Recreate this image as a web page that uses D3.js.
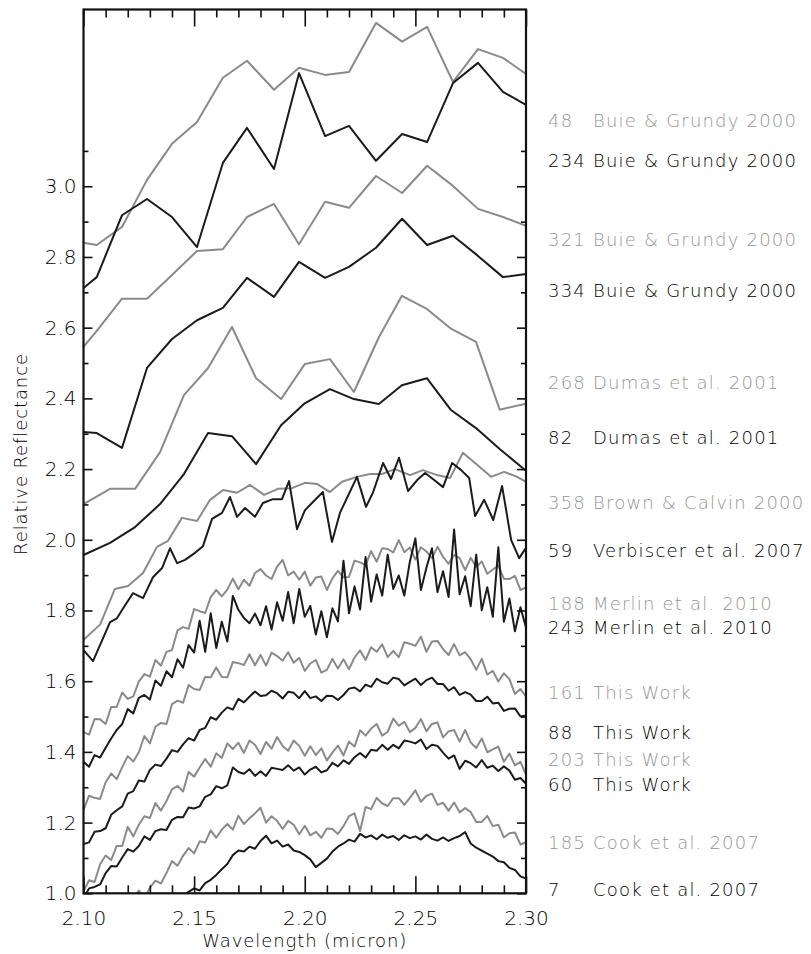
<!DOCTYPE html>
<html>
<head>
<meta charset="utf-8">
<script src="https://cdn.jsdelivr.net/npm/d3@7"></script>
<style>
  html, body { margin: 0; padding: 0; background: #fff; }
  svg { display: block; font-family: "DejaVu Sans", sans-serif; font-weight: 200; }
</style>
</head>
<body>
<div id="chart"></div>
<script>
// low-res spectra (Buie & Grundy 2000)
const buieWave = [2.100, 2.106, 2.1174, 2.1287, 2.140, 2.1513, 2.163, 2.1739, 2.1861, 2.1974, 2.2092, 2.220, 2.2322, 2.244, 2.2553, 2.267, 2.2783, 2.2896, 2.300];
const buie48  = [2.840, 2.834, 2.885, 3.018, 3.120, 3.182, 3.307, 3.355, 3.273, 3.335, 3.315, 3.323, 3.462, 3.409, 3.451, 3.295, 3.388, 3.363, 3.318];
const buie234 = [2.712, 2.743, 2.918, 2.964, 2.913, 2.828, 3.066, 3.165, 3.049, 3.320, 3.142, 3.171, 3.072, 3.148, 3.125, 3.292, 3.349, 3.267, 3.230];
const buie321 = [2.546, 2.591, 2.682, 2.682, 2.749, 2.817, 2.822, 2.913, 2.950, 2.836, 2.956, 2.939, 3.029, 2.981, 3.058, 3.001, 2.936, 2.913, 2.888];
const buie334 = [2.305, 2.302, 2.260, 2.486, 2.568, 2.621, 2.656, 2.741, 2.687, 2.786, 2.741, 2.772, 2.826, 2.908, 2.834, 2.860, 2.803, 2.743, 2.752];

// Dumas et al. 2001
const dumasWave = [2.100, 2.112, 2.1233, 2.1346, 2.1454, 2.1563, 2.1671, 2.178, 2.1893, 2.200, 2.2114, 2.2222, 2.2335, 2.2439, 2.2552, 2.2661, 2.2774, 2.2881, 2.300];
const dumas268 = [2.101, 2.144, 2.144, 2.248, 2.409, 2.486, 2.602, 2.457, 2.398, 2.497, 2.511, 2.418, 2.573, 2.690, 2.653, 2.597, 2.560, 2.368, 2.385];
const dumas82  = [1.957, 1.991, 2.036, 2.101, 2.186, 2.302, 2.293, 2.214, 2.324, 2.386, 2.426, 2.398, 2.384, 2.437, 2.457, 2.367, 2.316, 2.257, 2.195];

// Brown & Calvin 2000
const brownWave = [2.1000, 2.1075, 2.1142, 2.1201, 2.1269, 2.1332, 2.1382, 2.1445, 2.1513, 2.1572, 2.1631, 2.1694, 2.1753, 2.1816, 2.1879, 2.1942, 2.2001, 2.2055, 2.2114, 2.2168, 2.2236, 2.2295, 2.2349, 2.2408, 2.2476, 2.2534, 2.2598, 2.2657, 2.2715, 2.2779, 2.2842, 2.2901, 2.2960, 2.3000];
const brown358 = [1.717, 1.760, 1.861, 1.869, 1.906, 1.980, 1.997, 2.062, 2.053, 2.113, 2.141, 2.133, 2.155, 2.127, 2.144, 2.146, 2.161, 2.158, 2.135, 2.164, 2.178, 2.186, 2.186, 2.200, 2.183, 2.197, 2.183, 2.175, 2.246, 2.212, 2.178, 2.192, 2.178, 2.164];

// Verbiscer et al. 2007
const verbWave = [2.1000, 2.1043, 2.1120, 2.1151, 2.1188, 2.1224, 2.1269, 2.1314, 2.1355, 2.1391, 2.1423, 2.1459, 2.1504, 2.1540, 2.1581, 2.1626, 2.1662, 2.1694, 2.1730, 2.1775, 2.1811, 2.1856, 2.1897, 2.1929, 2.1965, 2.2001, 2.2037, 2.2082, 2.2123, 2.2159, 2.2236, 2.2277, 2.2308, 2.2354, 2.2390, 2.2426, 2.2467, 2.2508, 2.2544, 2.2585, 2.2625, 2.2666, 2.2707, 2.2743, 2.2770, 2.2811, 2.2852, 2.2892, 2.2933, 2.2969, 2.3000];
const verb59 = [1.688, 1.657, 1.767, 1.778, 1.815, 1.849, 1.835, 1.894, 1.920, 1.976, 1.934, 1.943, 1.963, 1.982, 2.059, 2.076, 2.121, 2.065, 2.090, 2.065, 2.104, 2.115, 2.115, 2.166, 2.030, 2.084, 2.107, 2.135, 1.994, 2.076, 2.178, 2.093, 2.133, 2.217, 2.172, 2.232, 2.138, 2.169, 2.189, 2.169, 2.149, 2.217, 2.197, 2.175, 2.067, 2.113, 2.056, 2.152, 1.999, 1.948, 1.977];

// high-res spectra, common wavelength grid
const hiWave = [2.1000, 2.1025, 2.1050, 2.1075, 2.1100, 2.1125, 2.1150, 2.1175, 2.1200, 2.1225,
  2.1250, 2.1275, 2.1300, 2.1325, 2.1350, 2.1375, 2.1400, 2.1425, 2.1450, 2.1475,
  2.1500, 2.1525, 2.1550, 2.1575, 2.1600, 2.1625, 2.1650, 2.1675, 2.1700, 2.1725,
  2.1750, 2.1775, 2.1800, 2.1825, 2.1850, 2.1875, 2.1900, 2.1925, 2.1950, 2.1975,
  2.2000, 2.2025, 2.2050, 2.2075, 2.2100, 2.2125, 2.2150, 2.2175, 2.2200, 2.2225,
  2.2250, 2.2275, 2.2300, 2.2325, 2.2350, 2.2375, 2.2400, 2.2425, 2.2450, 2.2475,
  2.2500, 2.2525, 2.2550, 2.2575, 2.2600, 2.2625, 2.2650, 2.2675, 2.2700, 2.2725,
  2.2750, 2.2775, 2.2800, 2.2825, 2.2850, 2.2875, 2.2900, 2.2925, 2.2950, 2.2975, 2.3000];
const merlin188 = [1.456, 1.449, 1.493, 1.492, 1.479, 1.527, 1.527, 1.568, 1.550, 1.557,
  1.599, 1.620, 1.613, 1.660, 1.644, 1.683, 1.688, 1.744, 1.753, 1.748,
  1.804, 1.798, 1.793, 1.838, 1.858, 1.840, 1.859, 1.890, 1.860, 1.887,
  1.870, 1.906, 1.917, 1.899, 1.889, 1.924, 1.943, 1.899, 1.910, 1.887,
  1.910, 1.870, 1.893, 1.896, 1.858, 1.891, 1.912, 1.894, 1.895, 1.941,
  1.936, 1.928, 1.968, 1.938, 1.976, 1.974, 1.964, 1.999, 1.965, 1.978,
  1.944, 1.979, 1.967, 1.948, 1.980, 1.952, 1.932, 1.957, 1.948, 1.914,
  1.949, 1.923, 1.939, 1.904, 1.916, 1.927, 1.890, 1.889, 1.898, 1.858, 1.865];
const merlin243 = [1.372, 1.358, 1.391, 1.384, 1.412, 1.438, 1.462, 1.479, 1.521, 1.509,
  1.553, 1.561, 1.548, 1.602, 1.587, 1.628, 1.611, 1.662, 1.638, 1.702,
  1.681, 1.771, 1.683, 1.792, 1.694, 1.768, 1.712, 1.841, 1.802, 1.779,
  1.764, 1.791, 1.758, 1.812, 1.746, 1.823, 1.771, 1.852, 1.764, 1.861,
  1.782, 1.813, 1.732, 1.798, 1.724, 1.806, 1.769, 1.941, 1.792, 1.868,
  1.803, 1.951, 1.825, 1.902, 1.842, 1.958, 1.861, 1.899, 1.842, 1.938,
  2.004, 1.858, 1.921, 1.976, 1.852, 1.911, 1.838, 2.029, 1.846, 1.897,
  1.812, 1.958, 1.801, 1.866, 1.782, 1.979, 1.768, 1.834, 1.741, 1.809, 1.752];
const work161 = [1.236, 1.276, 1.270, 1.267, 1.314, 1.339, 1.323, 1.357, 1.388, 1.373,
  1.399, 1.445, 1.424, 1.471, 1.482, 1.479, 1.535, 1.545, 1.539, 1.589,
  1.578, 1.575, 1.612, 1.611, 1.639, 1.612, 1.611, 1.654, 1.651, 1.646,
  1.676, 1.645, 1.674, 1.644, 1.681, 1.671, 1.658, 1.682, 1.652, 1.666,
  1.629, 1.650, 1.660, 1.624, 1.632, 1.663, 1.636, 1.662, 1.634, 1.667,
  1.687, 1.660, 1.696, 1.683, 1.704, 1.668, 1.686, 1.668, 1.710, 1.706,
  1.700, 1.726, 1.683, 1.712, 1.714, 1.691, 1.674, 1.705, 1.673, 1.682,
  1.662, 1.632, 1.663, 1.619, 1.629, 1.599, 1.622, 1.606, 1.564, 1.578, 1.556];
const work88 = [1.139, 1.144, 1.174, 1.176, 1.184, 1.222, 1.235, 1.246, 1.282, 1.289,
  1.319, 1.316, 1.349, 1.364, 1.360, 1.381, 1.405, 1.400, 1.421, 1.439,
  1.432, 1.462, 1.468, 1.498, 1.491, 1.511, 1.526, 1.520, 1.550, 1.540,
  1.556, 1.571, 1.558, 1.560, 1.573, 1.566, 1.551, 1.570, 1.567, 1.552,
  1.572, 1.552, 1.557, 1.544, 1.559, 1.558, 1.547, 1.561, 1.579, 1.582,
  1.571, 1.590, 1.584, 1.607, 1.597, 1.593, 1.610, 1.606, 1.588, 1.598,
  1.607, 1.589, 1.603, 1.610, 1.592, 1.592, 1.573, 1.583, 1.561, 1.569,
  1.562, 1.544, 1.544, 1.556, 1.537, 1.539, 1.516, 1.522, 1.523, 1.500, 1.503];
const work203 = [1.006, 1.037, 1.032, 1.082, 1.107, 1.094, 1.134, 1.134, 1.188, 1.161,
  1.194, 1.218, 1.213, 1.255, 1.234, 1.261, 1.294, 1.304, 1.288, 1.343,
  1.330, 1.356, 1.380, 1.358, 1.396, 1.383, 1.424, 1.408, 1.426, 1.397,
  1.432, 1.420, 1.394, 1.428, 1.409, 1.442, 1.417, 1.403, 1.432, 1.417,
  1.389, 1.416, 1.391, 1.410, 1.376, 1.398, 1.418, 1.390, 1.429, 1.415,
  1.461, 1.446, 1.466, 1.479, 1.446, 1.457, 1.494, 1.474, 1.485, 1.456,
  1.468, 1.493, 1.458, 1.479, 1.483, 1.441, 1.458, 1.462, 1.429, 1.462,
  1.427, 1.411, 1.438, 1.399, 1.407, 1.415, 1.372, 1.395, 1.362, 1.372, 1.336];
const work60 = [0.985, 1.014, 1.018, 1.025, 1.057, 1.077, 1.076, 1.101, 1.125, 1.118,
  1.134, 1.161, 1.151, 1.176, 1.181, 1.179, 1.208, 1.216, 1.215, 1.243,
  1.240, 1.246, 1.273, 1.280, 1.303, 1.297, 1.305, 1.356, 1.343, 1.338,
  1.351, 1.332, 1.345, 1.332, 1.355, 1.352, 1.349, 1.362, 1.347, 1.356,
  1.336, 1.350, 1.358, 1.342, 1.348, 1.369, 1.359, 1.376, 1.366, 1.385,
  1.397, 1.384, 1.406, 1.403, 1.420, 1.406, 1.420, 1.410, 1.432, 1.429,
  1.424, 1.435, 1.408, 1.420, 1.417, 1.398, 1.381, 1.390, 1.352, 1.375,
  1.368, 1.356, 1.377, 1.355, 1.361, 1.346, 1.359, 1.347, 1.321, 1.326, 1.310];
const cook185 = [null, null, null, null, null, null, null, null, 0.991, 0.983,
  1.008, 0.985, 1.016, 1.036, 1.028, 1.057, 1.091, 1.078, 1.106, 1.128,
  1.113, 1.147, 1.144, 1.178, 1.157, 1.180, 1.196, 1.180, 1.219, 1.196,
  1.212, 1.226, 1.242, 1.200, 1.218, 1.205, 1.182, 1.205, 1.194, 1.167,
  1.191, 1.164, 1.174, 1.157, 1.183, 1.182, 1.168, 1.190, 1.218, 1.226,
  1.176, 1.244, 1.238, 1.270, 1.254, 1.247, 1.269, 1.269, 1.250, 1.270,
  1.291, 1.259, 1.276, 1.282, 1.250, 1.256, 1.234, 1.257, 1.229, 1.241,
  1.230, 1.202, 1.202, 1.219, 1.190, 1.194, 1.158, 1.170, 1.172, 1.138, 1.145];
const cook7 = [null, null, null, null, null, null, null, null, null, null,
  null, null, null, null, null, null, 0.978, 0.988, 0.995, 1.004,
  1.014, 1.008, 1.029, 1.038, 1.052, 1.068, 1.083, 1.108, 1.121, 1.118,
  1.132, 1.126, 1.148, 1.163, 1.141, 1.149, 1.132, 1.138, 1.121, 1.117,
  1.108, 1.096, 1.074, 1.086, 1.098, 1.118, 1.132, 1.141, 1.152, 1.146,
  1.168, 1.158, 1.164, 1.153, 1.166, 1.157, 1.162, 1.151, 1.164, 1.156,
  1.161, 1.152, 1.166, 1.154, 1.149, 1.158, 1.148, 1.156, 1.162, 1.173,
  1.141, 1.129, 1.121, 1.112, 1.104, 1.091, 1.088, 1.072, 1.066, 1.048, 1.042];

// right-hand labels, top to bottom
const labelNums = ['48', '234', '321', '334', '268', '82', '358', '59', '188', '243', '161', '88', '203', '60', '185', '7'];
const labelRefs = ['Buie & Grundy 2000', 'Buie & Grundy 2000', 'Buie & Grundy 2000', 'Buie & Grundy 2000',
  'Dumas et al. 2001', 'Dumas et al. 2001', 'Brown & Calvin 2000', 'Verbiscer et al. 2007',
  'Merlin et al. 2010', 'Merlin et al. 2010', 'This Work', 'This Work', 'This Work', 'This Work',
  'Cook et al. 2007', 'Cook et al. 2007'];
const labelLevels = [3.187, 3.074, 2.848, 2.706, 2.446, 2.288, 2.104, 1.971, 1.821, 1.751, 1.567, 1.454, 1.378, 1.307, 1.143, 1.010];

const xTickValues = [2.10, 2.15, 2.20, 2.25, 2.30];
const xTickLabels = ['2.10', '2.15', '2.20', '2.25', '2.30'];
const yTickValues = [1.0, 1.2, 1.4, 1.6, 1.8, 2.0, 2.2, 2.4, 2.6, 2.8, 3.0];
const yTickLabels = ['1.0', '1.2', '1.4', '1.6', '1.8', '2.0', '2.2', '2.4', '2.6', '2.8', '3.0'];

const GRAY = '#8a8a8a';
const BLACK = '#1b1b1b';
const GRAY_TEXT = '#959595';
const BLACK_TEXT = '#000';

const waves = [buieWave, buieWave, buieWave, buieWave, dumasWave, dumasWave, brownWave, verbWave,
  hiWave, hiWave, hiWave, hiWave, hiWave, hiWave, hiWave, hiWave];
const values = [buie48, buie234, buie321, buie334, dumas268, dumas82, brown358, verb59,
  merlin188, merlin243, work161, work88, work203, work60, cook185, cook7];

const series = values.map((v, i) => ({
  num: labelNums[i],
  ref: labelRefs[i],
  level: labelLevels[i],
  color: i % 2 === 0 ? GRAY : BLACK,
  textColor: i % 2 === 0 ? GRAY_TEXT : BLACK_TEXT,
  points: v.map((val, j) => [waves[i][j], val])
}));

const W = 811, H = 954;
const plotL = 83.5, plotR = 526, plotT = 9.5, plotB = 893.3;

const svg = d3.select('#chart').append('svg')
  .attr('width', W)
  .attr('height', H);

const x = d3.scaleLinear().domain([2.10, 2.30]).range([plotL, plotR]);
const y = d3.scaleLinear().domain([1.0, 3.5]).range([plotB, plotT]);

svg.append('defs').append('clipPath').attr('id', 'plotClip')
  .append('rect')
  .attr('x', plotL).attr('y', plotT)
  .attr('width', plotR - plotL).attr('height', plotB - plotT);

const line = d3.line()
  .defined(d => d[1] != null)
  .x(d => x(d[0]))
  .y(d => y(d[1]));

svg.append('g')
  .attr('clip-path', 'url(#plotClip)')
  .selectAll('path')
  .data(series)
  .join('path')
  .attr('d', d => line(d.points))
  .attr('fill', 'none')
  .attr('stroke', d => d.color)
  .attr('stroke-width', 2)
  .attr('stroke-linejoin', 'round');

// axes: ticks point inward, frame drawn separately
const xMinor = d3.range(2.11, 2.30, 0.01).filter(v => Math.abs(v * 20 - Math.round(v * 20)) > 1e-6);
const yMinor = d3.range(1.1, 3.15, 0.2);

function styleAxis(g) {
  g.select('.domain').remove();
  g.selectAll('line').attr('stroke', '#111').attr('stroke-width', 1.6);
  g.selectAll('text')
    .attr('fill', '#000')
    .attr('font-family', '"DejaVu Sans", sans-serif')
    .attr('font-weight', 200)
    .attr('font-size', 20);
}

svg.append('g')
  .attr('transform', `translate(0,${plotB})`)
  .call(d3.axisBottom(x).tickValues(xTickValues).tickSize(-17).tickPadding(17.5)
    .tickFormat((d, i) => xTickLabels[i]))
  .call(styleAxis);
svg.append('g')
  .attr('transform', `translate(0,${plotB})`)
  .call(d3.axisBottom(x).tickValues(xMinor).tickSize(-8).tickFormat(''))
  .call(styleAxis);
svg.append('g')
  .attr('transform', `translate(0,${plotT})`)
  .call(d3.axisTop(x).tickValues(xTickValues).tickSize(-17).tickFormat(''))
  .call(styleAxis);
svg.append('g')
  .attr('transform', `translate(0,${plotT})`)
  .call(d3.axisTop(x).tickValues(xMinor).tickSize(-8).tickFormat(''))
  .call(styleAxis);

svg.append('g')
  .attr('transform', `translate(${plotL},0)`)
  .call(d3.axisLeft(y).tickValues(yTickValues).tickSize(-9).tickPadding(7)
    .tickFormat((d, i) => yTickLabels[i]))
  .call(styleAxis);
svg.append('g')
  .attr('transform', `translate(${plotL},0)`)
  .call(d3.axisLeft(y).tickValues(yMinor).tickSize(-5).tickFormat(''))
  .call(styleAxis);
svg.append('g')
  .attr('transform', `translate(${plotR},0)`)
  .call(d3.axisRight(y).tickValues(yTickValues).tickSize(-9).tickFormat(''))
  .call(styleAxis);
svg.append('g')
  .attr('transform', `translate(${plotR},0)`)
  .call(d3.axisRight(y).tickValues(yMinor).tickSize(-5).tickFormat(''))
  .call(styleAxis);

svg.append('rect')
  .attr('x', plotL).attr('y', plotT)
  .attr('width', plotR - plotL).attr('height', plotB - plotT)
  .attr('fill', 'none')
  .attr('stroke', '#111')
  .attr('stroke-width', 2.2);

// axis titles
svg.append('text')
  .attr('x', (plotL + plotR) / 2)
  .attr('y', 947)
  .attr('text-anchor', 'middle')
  .attr('font-size', 18)
  .attr('letter-spacing', 0.9)
  .attr('fill', '#000')
  .text('Wavelength (micron)');

svg.append('text')
  .attr('transform', 'translate(27,454) rotate(-90)')
  .attr('text-anchor', 'middle')
  .attr('font-size', 18)
  .attr('letter-spacing', 0.9)
  .attr('fill', '#000')
  .text('Relative Reflectance');

// right-hand legend
const lab = svg.append('g').selectAll('g')
  .data(series)
  .join('g')
  .attr('transform', d => `translate(0,${y(d.level)})`)
  .attr('fill', d => d.textColor)
  .attr('font-size', 18)
  .attr('letter-spacing', 1.2);

lab.append('text')
  .attr('x', 548)
  .attr('dy', '0.36em')
  .text(d => d.num);

lab.append('text')
  .attr('x', 593)
  .attr('dy', '0.36em')
  .text(d => d.ref);
</script>
</body>
</html>
